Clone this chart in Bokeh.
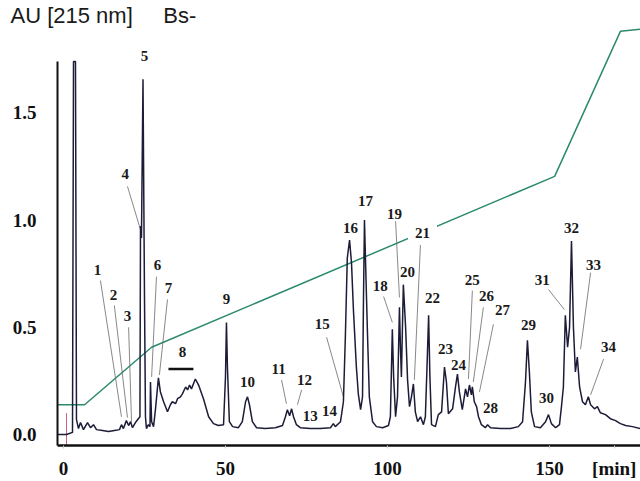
from bokeh.plotting import figure
from bokeh.models import Range1d, FixedTicker, Label, ColumnDataSource, LabelSet
from bokeh.embed import file_html
from bokeh.resources import INLINE

# ---- chromatogram trace (retention time [min], absorbance [AU]) ----
rt_min = [-1.85, 0.93, 2.78, 3.09, 3.70, 4.01, 4.63, 5.25, 6.17, 7.41, 8.33, 9.26, 10.19, 12.04, 13.89,
          15.74, 17.28, 17.9, 18.5, 19.4, 20.1, 20.7, 21.3, 22.2, 23.6, 23.77, 24.07, 24.54, 25.0, 25.3,
          25.6, 26.2, 26.7, 26.85, 27.2, 27.8, 28.4, 29.3, 29.9, 30.9, 32.1, 33.0, 33.6, 34.6, 35.2,
          36.1, 36.7, 37.7, 38.3, 38.9, 39.5, 40.7, 41.7, 43.2, 44.8, 46.3, 47.8, 49.4, 50.0, 50.3,
          50.6, 51.2, 52.2, 54.0, 55.2, 56.2, 56.8, 57.4, 58.3, 59.6, 62.3, 65.4, 67.6, 68.5, 69.1,
          69.8, 70.4, 71.0, 71.9, 73.1, 76.2, 79.3, 82.4, 83.3, 83.9, 85.5, 86.4, 87.0, 87.6, 88.3,
          88.9, 89.5, 90.4, 91.0, 91.7, 92.3, 92.6, 92.9, 93.2, 93.8, 94.4, 95.4, 96.6, 98.5, 100.3,
          100.9, 101.5, 101.9, 102.5, 103.1, 103.7, 104.0, 104.3, 104.9, 105.6, 106.2, 106.8, 107.4, 108.0, 108.6,
          109.3, 110.2, 111.1, 111.7, 112.3, 112.7, 113.1, 113.6, 114.8, 115.7, 116.7, 117.6, 118.2, 118.8, 120.1,
          121.0, 121.6, 122.2, 123.1, 124.1, 124.7, 125.3, 125.9, 126.2, 126.8, 127.5, 128.1, 129.0, 130.2, 130.9,
          131.8, 134.9, 138.0, 140.4, 141.7, 142.6, 143.2, 143.8, 144.4, 145.4, 147.2, 148.8, 149.7, 150.6, 151.9,
          153.1, 153.7, 154.3, 154.9, 155.6, 156.2, 156.8, 157.4, 158.0, 158.6, 159.3, 160.2, 161.1, 162.0, 162.7,
          163.9, 164.8, 165.7, 167.3, 168.8, 170.4, 171.9, 173.5, 175.6, 178.1]
abs_au = [0.0, 0.0, 0.01, 1.74, 1.74, 0.07, 0.028, 0.056, 0.023, 0.056, 0.032, 0.046, 0.023, 0.019, 0.014,
          0.019, 0.023, 0.046, 0.028, 0.065, 0.042, 0.06, 0.032, 0.056, 0.083, 0.972, 0.917, 1.657, 0.639, 0.083,
          0.028, 0.046, 0.037, 0.245, 0.06, 0.037, 0.12, 0.264, 0.2, 0.153, 0.106, 0.139, 0.153, 0.144, 0.167,
          0.176, 0.19, 0.222, 0.208, 0.231, 0.213, 0.259, 0.231, 0.167, 0.083, 0.051, 0.042, 0.046, 0.27, 0.523,
          0.315, 0.06, 0.037, 0.032, 0.06, 0.153, 0.176, 0.139, 0.06, 0.032, 0.028, 0.032, 0.042, 0.083, 0.116,
          0.088, 0.12, 0.083, 0.046, 0.032, 0.028, 0.028, 0.032, 0.051, 0.037, 0.06, 0.153, 0.454, 0.824, 0.907,
          0.8, 0.579, 0.315, 0.19, 0.116, 0.176, 0.639, 1.0, 0.824, 0.486, 0.176, 0.06, 0.037, 0.032, 0.042,
          0.083, 0.491, 0.269, 0.083, 0.176, 0.593, 0.407, 0.269, 0.699, 0.5, 0.255, 0.13, 0.176, 0.236, 0.106,
          0.06, 0.083, 0.046, 0.083, 0.361, 0.556, 0.269, 0.046, 0.037, 0.093, 0.106, 0.315, 0.245, 0.097, 0.12,
          0.222, 0.282, 0.199, 0.116, 0.213, 0.176, 0.231, 0.185, 0.222, 0.153, 0.13, 0.083, 0.046, 0.032, 0.046,
          0.032, 0.028, 0.028, 0.037, 0.06, 0.245, 0.44, 0.292, 0.106, 0.037, 0.032, 0.06, 0.093, 0.051, 0.032,
          0.046, 0.13, 0.222, 0.556, 0.407, 0.5, 0.903, 0.5, 0.292, 0.361, 0.222, 0.153, 0.139, 0.176, 0.139,
          0.12, 0.13, 0.102, 0.093, 0.074, 0.065, 0.051, 0.042, 0.037, 0.028]

# ---- gradient (%B) drawn on the AU scale ----
grad_t = [-1.85, 6.5, 27.2, 151.6, 171.9, 178.1]
grad_v = [0.139, 0.139, 0.407, 1.204, 1.88, 1.89]

# ---- injection marker ----
inj_t = [0.93, 0.93]
inj_v = [0.10, -0.051]

# ---- peak labels ----
peak_lbl = [str(i) for i in range(1, 35)]
lbl_t = [10.5, 15.4, 19.75, 19.1, 25.0, 29.0, 32.4, 36.7, 50.3, 56.8, 66.4, 74.4, 76.2, 82.1, 79.9, 88.6, 93.2,
         97.8, 102.2, 106.2, 110.8, 113.9, 117.9, 121.9, 126.2, 130.6, 135.5, 131.8, 143.5, 149.1, 147.8,
         156.8, 163.6, 168.2]
lbl_v = [0.769, 0.653, 0.551, 1.213, 1.764, 0.792, 0.685, 0.384, 0.63, 0.245, 0.306, 0.255, 0.088, 0.111, 0.514,
         0.963, 1.088, 0.694, 1.028, 0.759, 0.94, 0.639, 0.398, 0.324, 0.722, 0.648, 0.579, 0.125, 0.509, 0.171,
         0.722, 0.963, 0.792, 0.407]

# ---- leader lines (label -> peak) ----
ld_t0 = [11.4, 15.7, 20.1, 19.75, 28.7, 32.1, 67.3, 73.5, 81.2, 98.8, 102.5, 110.2, 126.2, 129.6, 132.7, 149.7, 162.7, 166.7]
ld_v0 = [0.718, 0.602, 0.5, 1.157, 0.736, 0.63, 0.255, 0.208, 0.454, 0.644, 0.995, 0.894, 0.671, 0.593, 0.514, 0.676, 0.755, 0.352]
ld_t1 = [17.9, 19.75, 21.0, 23.8, 27.2, 29.6, 68.8, 72.2, 86.4, 101.5, 103.7, 108.3, 125.0, 126.5, 128.4, 154.6, 159.6, 162.7]
ld_v1 = [0.083, 0.079, 0.06, 0.954, 0.269, 0.278, 0.144, 0.139, 0.176, 0.523, 0.639, 0.255, 0.259, 0.245, 0.199, 0.583, 0.398, 0.185]

# ---- bar under peak 8 ----
bar8_t = [32.4, 40.1]
bar8_v = [0.306, 0.306]

# ---- axes ----
x_ticks = [0, 50, 100, 150, 170]
x_tick_labels = ["0", "50", "100", "150", "[min]"]
y_ticks = [0.0, 0.5, 1.0, 1.5]
y_tick_labels = ["0.0", "0.5", "1.0", "1.5"]

header = "AU [215 nm]\u00a0\u00a0\u00a0\u00a0\u00a0Bs-"

p = figure(width=640, height=481, x_range=Range1d(-1.85, 178.1), y_range=Range1d(-0.051, 1.898),
           output_backend="svg", toolbar_location=None, title=header,
           min_border_left=57, min_border_right=0, min_border_top=0, min_border_bottom=32)
p.outline_line_color = None
p.xgrid.visible = False
p.ygrid.visible = False
p.background_fill_color = "white"

p.title.text_font = "Liberation Sans"
p.title.text_font_style = "normal"
p.title.text_font_size = "22px"
p.title.text_color = "#1a1a1a"
p.title.align = "left"
p.title.offset = -47
p.title.standoff = 0

serif = "Liberation Serif"

p.xaxis.ticker = FixedTicker(ticks=x_ticks)
p.xaxis.major_label_overrides = {t: l for t, l in zip(x_ticks, x_tick_labels)}
p.xaxis.minor_tick_line_color = None
p.xaxis.major_tick_line_color = "#c8c8c8"
p.xaxis.major_tick_out = 3
p.xaxis.major_tick_in = 0
p.xaxis.axis_line_width = 2.5
p.xaxis.axis_line_color = "#111111"
p.xaxis.major_label_text_font = serif
p.xaxis.major_label_text_font_style = "bold"
p.xaxis.major_label_text_font_size = "19px"
p.xaxis.major_label_text_color = "#111111"
p.xaxis.major_label_standoff = 9

p.yaxis.ticker = FixedTicker(ticks=y_ticks)
p.yaxis.major_label_overrides = {t: l for t, l in zip(y_ticks, y_tick_labels)}
p.yaxis.minor_tick_line_color = None
p.yaxis.major_tick_line_color = None
p.yaxis.major_tick_out = 0
p.yaxis.major_tick_in = 0
p.yaxis.axis_line_width = 2
p.yaxis.axis_line_color = "#111111"
p.yaxis.bounds = (-0.051, max(abs_au))
p.yaxis.major_label_text_font = serif
p.yaxis.major_label_text_font_style = "bold"
p.yaxis.major_label_text_font_size = "19px"
p.yaxis.major_label_text_color = "#111111"
p.yaxis.major_label_standoff = 21

# gradient line
p.line(grad_t, grad_v, line_color="#2b8a6e", line_width=1.5)
# injection marker
p.line(inj_t, inj_v, line_color="#d0607e", line_width=1)
# leader lines
p.segment(x0=ld_t0, y0=ld_v0, x1=ld_t1, y1=ld_v1, line_color="#6a6a6a", line_width=0.8)
# chromatogram
p.line(rt_min, abs_au, line_color="#1c1c38", line_width=1.5)
# peak-8 bar
p.line(bar8_t, bar8_v, line_color="#111111", line_width=2.5)

# peak labels (21 gets a white box that interrupts the gradient line)
idx = [i for i in range(len(peak_lbl)) if peak_lbl[i] != "21"]
src = ColumnDataSource(dict(x=[lbl_t[i] for i in idx], y=[lbl_v[i] for i in idx], t=[peak_lbl[i] for i in idx]))
p.add_layout(LabelSet(x="x", y="y", text="t", source=src, text_font=serif, text_font_style="bold",
                      text_font_size="15px", text_align="center", text_baseline="middle", text_color="#1a1a1a"))
j = peak_lbl.index("21")
p.add_layout(Label(x=lbl_t[j], y=lbl_v[j], text=peak_lbl[j], text_font=serif, text_font_style="bold",
                   text_font_size="15px", text_align="center", text_baseline="middle", text_color="#1a1a1a",
                   background_fill_color="white", padding=7))

open("out.html", "w").write(file_html(p, INLINE))
